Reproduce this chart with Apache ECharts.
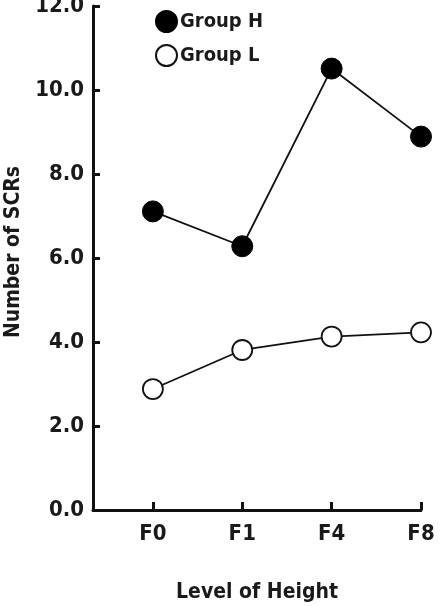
<!DOCTYPE html>
<html>
<head>
<meta charset="utf-8">
<script src="https://cdn.jsdelivr.net/npm/echarts@6/dist/echarts.min.js"></script>
<style>
  html, body { margin: 0; padding: 0; background: #fff; }
  #chart { width: 448px; height: 606px; }
</style>
</head>
<body>
<div id="chart"></div>
<script>
// levels of height on the x axis
var levels = ['F0', 'F1', 'F4', 'F8'];
// number of SCRs per group
var groupH = [7.11, 6.28, 10.51, 8.89];
var groupL = [2.88, 3.81, 4.13, 4.23];

var FONT = '"Liberation Sans Narrow", "DejaVu Sans Condensed", sans-serif';

function toPoints(vals) {
    return vals.map(function (v, i) { return [i, v]; });
}

var chart = echarts.init(document.getElementById('chart'));

chart.setOption({
    animation: false,
    textStyle: { fontFamily: FONT },
    grid: { left: 93, right: 27, top: 6, bottom: 96, outerBoundsMode: 'none' },
    legend: {
        orient: 'vertical',
        left: 150,
        top: 5,
        itemWidth: 21,
        itemHeight: 21,
        itemGap: 11,
        textStyle: { fontFamily: FONT, fontWeight: 'bold', fontSize: 20, color: '#1a1a1a', padding: [0, 0, 0, -2] },
        data: [
            { name: 'Group H', icon: 'circle' },
            { name: 'Group L', icon: 'circle' }
        ]
    },
    xAxis: {
        type: 'value',
        min: -0.67,
        max: 3,
        name: 'Level of Height',
        nameLocation: 'middle',
        nameGap: 72,
        nameTextStyle: { fontFamily: FONT, fontWeight: 'bold', fontSize: 21, color: '#1a1a1a' },
        axisLine: { onZero: false, lineStyle: { color: '#111', width: 3 } },
        axisTick: { inside: true, length: 8, lineStyle: { color: '#111', width: 3 }, customValues: [0, 1, 2, 3] },
        axisLabel: {
            customValues: [0, 1, 2, 3],
            margin: 13,
            fontFamily: FONT, fontWeight: 'bold', fontSize: 22, color: '#1a1a1a',
            formatter: function (v) { return levels[Math.round(v)]; }
        },
        splitLine: { show: false }
    },
    yAxis: {
        type: 'value',
        min: 0,
        max: 12,
        interval: 2,
        name: 'Number of SCRs',
        nameLocation: 'middle',
        nameGap: 68,
        nameTextStyle: { fontFamily: FONT, fontWeight: 'bold', fontSize: 21, color: '#1a1a1a', padding: [0, 0, 0, 12] },
        axisLine: { show: true, onZero: false, lineStyle: { color: '#111', width: 3 } },
        axisTick: { show: true, inside: true, length: 7, lineStyle: { color: '#111', width: 3 } },
        axisLabel: {
            margin: 9,
            fontFamily: FONT, fontWeight: 'bold', fontSize: 22, color: '#1a1a1a',
            formatter: function (v) { return v.toFixed(1); }
        },
        splitLine: { show: false }
    },
    series: [
        {
            name: 'Group H',
            type: 'line',
            data: toPoints(groupH),
            symbol: 'circle',
            symbolSize: 21,
            lineStyle: { color: '#111', width: 1.8 },
            itemStyle: { color: '#000', borderColor: '#000', borderWidth: 1 },
            z: 3
        },
        {
            name: 'Group L',
            type: 'line',
            data: toPoints(groupL),
            symbol: 'circle',
            symbolSize: 20,
            lineStyle: { color: '#111', width: 1.8 },
            itemStyle: { color: '#fff', borderColor: '#111', borderWidth: 1.8 },
            z: 3
        }
    ]
});
</script>
</body>
</html>
